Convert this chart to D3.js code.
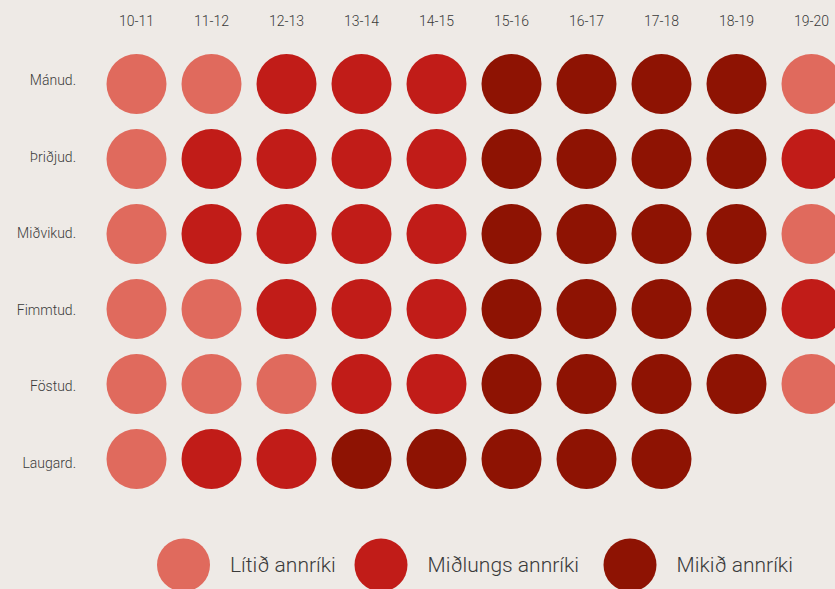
<!DOCTYPE html>
<html><head><meta charset="utf-8">
<script src="https://cdn.jsdelivr.net/npm/d3@7"></script>
<style>html,body{margin:0;padding:0;background:#eeeae6;}svg{display:block;}</style>
</head><body>
<script>
const hours = ["10-11","11-12","12-13","13-14","14-15","15-16","16-17","17-18","18-19","19-20"];
const days = ["Mánud.","Þriðjud.","Miðvikud.","Fimmtud.","Föstud.","Laugard."];
// 1 = Lítið, 2 = Miðlungs, 3 = Mikið
const manud    = [1,1,2,2,2,3,3,3,3,1];
const thridjud = [1,2,2,2,2,3,3,3,3,2];
const midvikud = [1,2,2,2,2,3,3,3,3,1];
const fimmtud  = [1,1,2,2,2,3,3,3,3,2];
const fostud   = [1,1,1,2,2,3,3,3,3,1];
const laugard  = [1,2,2,3,3,3,3,3];
const levelNames = ["Lítið annríki","Miðlungs annríki","Mikið annríki"];
const levelColors = ["#e06a5d","#c11c18","#8e1303"];

const W = 835, H = 589;
const rowsData = [manud, thridjud, midvikud, fimmtud, fostud, laugard];

const svg = d3.select("body").append("svg").attr("width", W).attr("height", H);
svg.append("rect").attr("width", W).attr("height", H).attr("fill", "#eeeae6");

const x = d3.scalePoint().domain(hours).range([136.5, 811.5]);
const y = d3.scalePoint().domain(days).range([84, 459]);
const yLabel = d3.scalePoint().domain(days).range([85, 468]);
const color = d3.scaleOrdinal().domain([1,2,3]).range(levelColors);

const font = "Roboto, 'Noto Sans', sans-serif";

// column labels
svg.append("g").selectAll("text").data(hours).join("text")
  .attr("x", d => x(d)).attr("y", 26)
  .attr("text-anchor", "middle")
  .attr("font-family", font).attr("font-weight", 300)
  .attr("font-size", 14).attr("fill", "#3a3a3a")
  .text(d => d);

// row labels
svg.append("g").selectAll("text").data(days).join("text")
  .attr("x", 76).attr("y", d => yLabel(d))
  .attr("text-anchor", "end")
  .attr("font-family", font).attr("font-weight", 300)
  .attr("font-size", 14).attr("fill", "#3a3a3a")
  .text(d => d);

// cells
const cells = [];
rowsData.forEach((row, i) => row.forEach((v, j) => cells.push({day: days[i], hour: hours[j], v})));
svg.append("g").selectAll("circle").data(cells).join("circle")
  .attr("cx", d => x(d.hour)).attr("cy", d => y(d.day))
  .attr("r", 30)
  .attr("fill", d => color(d.v));

// legend
const legX = [183.5, 381, 630];
const leg = svg.append("g").selectAll("g").data(levelNames).join("g")
  .attr("transform", (d, i) => `translate(${legX[i]},565)`);
leg.append("circle").attr("r", 26.5).attr("fill", (d, i) => levelColors[i]);
leg.append("text").attr("x", 46.5).attr("y", 7)
  .attr("font-family", font).attr("font-weight", 300)
  .attr("font-size", 21).attr("fill", "#3a3a3a")
  .text(d => d);
</script>
</body></html>
